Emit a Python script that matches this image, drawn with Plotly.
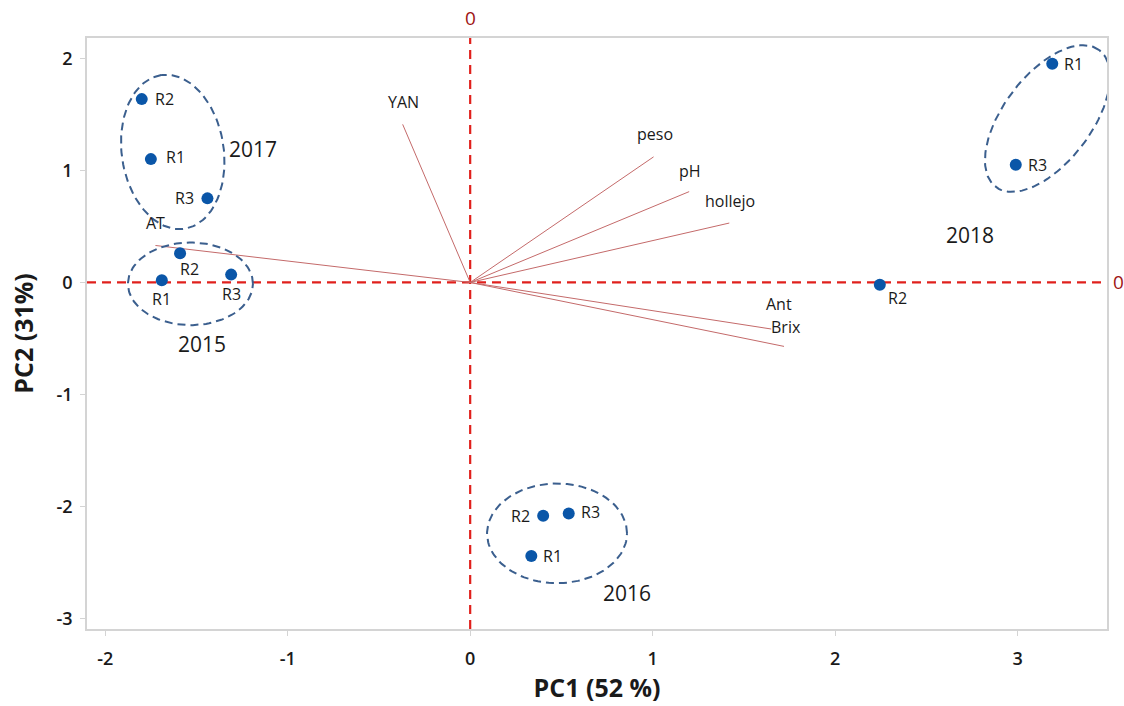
import numpy as np
import plotly.graph_objects as go

# ---- sample scores (PC1, PC2) ----
years = ["2017", "2017", "2017", "2015", "2015", "2015",
         "2018", "2018", "2018", "2016", "2016", "2016"]
reps = ["R2", "R1", "R3", "R2", "R1", "R3",
        "R1", "R3", "R2", "R2", "R3", "R1"]
pc1 = [-1.80, -1.75, -1.44, -1.59, -1.69, -1.31,
       3.19, 2.99, 2.245, 0.40, 0.54, 0.335]
pc2 = [1.635, 1.10, 0.75, 0.26, 0.02, 0.07,
       1.95, 1.05, -0.02, -2.08, -2.06, -2.44]

# ---- variable loadings (arrow tips) ----
variables = ["YAN", "peso", "pH", "hollejo", "Ant", "Brix", "AT"]
load_x = [-0.37, 1.005, 1.20, 1.42, 1.65, 1.72, -1.725]
load_y = [1.41, 1.12, 0.81, 0.53, -0.415, -0.57, 0.33]

# ---- axis setup ----
x_range = [-2.10, 3.49]
y_range = [-3.09, 2.18]
x_ticks = [-2, -1, 0, 1, 2, 3]
x_ticktext = ["-2", "-1", "0", "1", "2", "3"]
y_ticks = [-3, -2, -1, 0, 1, 2]
y_ticktext = ["-3", "-2", "-1", "0", "1", "2"]

W, H = 1124, 706
M = dict(l=87, r=17, t=38, b=75)
sx = (W - M["l"] - M["r"]) / (x_range[1] - x_range[0])  # px per unit
sy = (H - M["t"] - M["b"]) / (y_range[1] - y_range[0])

FONT = "Open Sans, Noto Sans, sans-serif"
BLUE = "#0a56a8"
RED = "#e0201c"
ELL = "#3b5f8e"
VEC = "#c46a6a"
TXT = "#1a1a1a"

fig = go.Figure()

# reference lines through the origin
fig.add_shape(type="line", x0=0, x1=0, y0=y_range[0], y1=y_range[1],
              line=dict(color=RED, width=2.2, dash="9px,6px"), layer="below")
fig.add_shape(type="line", x0=x_range[0], x1=x_range[1], y0=0, y1=0,
              line=dict(color=RED, width=2.2, dash="9px,6px"), layer="below")

# loading vectors
for vx, vy in zip(load_x, load_y):
    fig.add_trace(go.Scatter(x=[0, vx], y=[0, vy], mode="lines",
                             line=dict(color=VEC, width=1), hoverinfo="skip",
                             showlegend=False))


def ellipse_path(cx, cy, a_px, b_px, ang_deg, n=120):
    t = np.linspace(0, 2 * np.pi, n)
    th = np.deg2rad(ang_deg)
    px = a_px * np.cos(t) * np.cos(th) - b_px * np.sin(t) * np.sin(th)
    py = a_px * np.cos(t) * np.sin(th) + b_px * np.sin(t) * np.cos(th)
    return cx + px / sx, cy + py / sy


# group ellipses: centre in data units, semi-axes in px, rotation in degrees
groups = [
    (-1.630, 1.164, 78, 51, 98.5),
    (-1.533, -0.012, 62.5, 41.5, 0),
    (3.164, 1.462, 86, 44, 53),
    (0.476, -2.237, 70, 50, 0),
]
for cx, cy, a, b, ang in groups:
    ex, ey = ellipse_path(cx, cy, a, b, ang)
    fig.add_trace(go.Scatter(x=ex, y=ey, mode="lines",
                             line=dict(color=ELL, width=2, dash="8px,5px"),
                             hoverinfo="skip", showlegend=False))

# sample points
fig.add_trace(go.Scatter(x=pc1, y=pc2, mode="markers",
                         marker=dict(color=BLUE, size=12),
                         showlegend=False))

# replicate labels: (xanchor, xshift, yshift)
rep_pos = [("left", 11, 0), ("left", 13, 2), ("right", -11, 0),
           ("left", -2, -16), ("center", 0, -19), ("center", 0, -19),
           ("left", 10, 0), ("left", 10, 0), ("left", 6, -13),
           ("right", -11, 0), ("left", 10, 1), ("left", 10, 0)]
for x, y, r, (xa, xs_, ys_) in zip(pc1, pc2, reps, rep_pos):
    fig.add_annotation(x=x, y=y, text=r, showarrow=False, xanchor=xa,
                       xshift=xs_, yshift=ys_,
                       font=dict(family=FONT, size=16, color=TXT))

# variable labels: (xshift, yshift)
var_pos = [(1, 22), (1, 23), (1, 21), (1, 22), (8, 25), (2, 19), (0, 22)]
for vx, vy, name, (xs_, ys_) in zip(load_x, load_y, variables, var_pos):
    fig.add_annotation(x=vx, y=vy, text=name, showarrow=False,
                       xshift=xs_, yshift=ys_,
                       font=dict(family=FONT, size=16, color=TXT))

# year labels
year_labels = ["2017", "2015", "2018", "2016"]
year_x = [-1.19, -1.47, 2.74, 0.86]
year_y = [1.19, -0.55, 0.42, -2.77]
for t, x, y in zip(year_labels, year_x, year_y):
    fig.add_annotation(x=x, y=y, text=t, showarrow=False,
                       font=dict(family=FONT, size=21, color=TXT))

# "0" markers on the reference lines
fig.add_annotation(x=0, y=1, xref="x", yref="paper", text="0",
                   showarrow=False, yanchor="bottom", yshift=5,
                   font=dict(family=FONT, size=19, color="#9e1414"))
fig.add_annotation(x=1, y=0, xref="paper", yref="y", text="0",
                   showarrow=False, xanchor="left", xshift=4,
                   font=dict(family=FONT, size=19, color="#9e1414"))

axis_common = dict(showgrid=False, zeroline=False, showline=True, mirror=True,
                   linecolor="#d4d4d4", linewidth=1.5, ticks="outside",
                   ticklen=5, tickcolor="#d4d4d4",
                   tickfont=dict(family=FONT, size=18, color=TXT, weight=600))

fig.update_layout(
    width=W, height=H, margin=M,
    plot_bgcolor="white", paper_bgcolor="white",
    xaxis=dict(range=x_range, tickvals=x_ticks, ticktext=x_ticktext,
               ticklabelstandoff=8,
               title=dict(text="<b>PC1 (52 %)</b>", standoff=6,
                          font=dict(family=FONT, size=25, color=TXT)),
               **axis_common),
    yaxis=dict(range=y_range, tickvals=y_ticks, ticktext=y_ticktext,
               ticklabelstandoff=4,
               title=dict(text="<b>PC2 (31%)</b>", standoff=16,
                          font=dict(family=FONT, size=25, color=TXT)),
               **axis_common),
)

fig.write_html("out.html")
